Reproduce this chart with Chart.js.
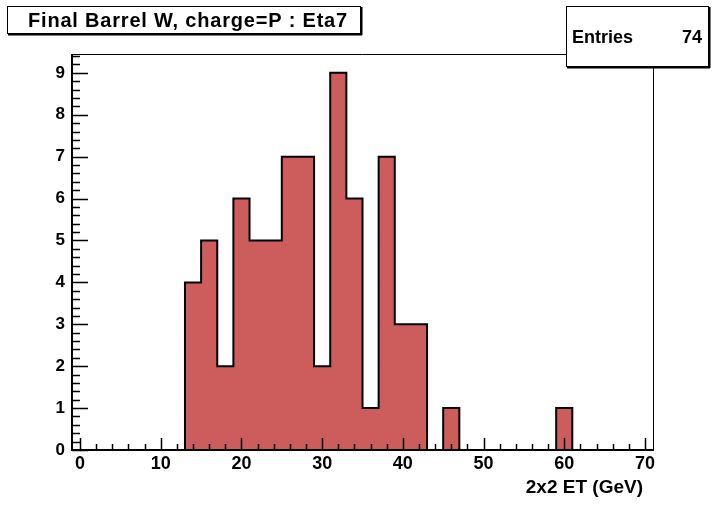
<!DOCTYPE html>
<html>
<head>
<meta charset="utf-8">
<script src="https://cdn.jsdelivr.net/npm/chart.js@4.4.1/dist/chart.umd.min.js"></script>
<style>
  html, body { margin: 0; padding: 0; background: #fff; }
  #wrap { width: 718px; height: 505px; position: relative; }
</style>
</head>
<body>
<div id="wrap"><canvas id="c" width="718" height="505"></canvas></div>
<script>
// ---- data ----
const chartTitle = "Final Barrel W, charge=P : Eta7";
const xAxisTitle = "2x2 ET (GeV)";
const entriesLabel = "Entries";
const entriesValue = "74";
const binLow = [-1, 1, 3, 5, 7, 9, 11, 13, 15, 17, 19, 21, 23, 25, 27, 29, 31, 33,
                35, 37, 39, 41, 43, 45, 47, 49, 51, 53, 55, 57, 59, 61, 63, 65, 67, 69];
const counts = [0, 0, 0, 0, 0, 0, 0, 4, 5, 2, 6, 5, 5, 7, 7, 2, 9, 6,
                1, 7, 3, 3, 0, 1, 0, 0, 0, 0, 0, 0, 1, 0, 0, 0, 0, 0];
const xMin = -1, xMax = 71;
const yMin = 0, yMax = 9.45;
const xTickValues = [0, 10, 20, 30, 40, 50, 60, 70];
const yTickValues = [0, 1, 2, 3, 4, 5, 6, 7, 8, 9];

const FONT = "'Liberation Sans', Arial, Helvetica, sans-serif";

const points = binLow.map((x, i) => ({ x: x, y: counts[i] }));
points.push({ x: xMax, y: 0 });

const rootPlugin = {
  id: 'rootDecor',
  afterDatasetsDraw(chart) {
    const ctx = chart.ctx;
    const ca = chart.chartArea;
    const xs = chart.scales.x, ys = chart.scales.y;
    ctx.save();
    // frame top & right
    ctx.strokeStyle = '#000';
    ctx.lineWidth = 1;
    ctx.beginPath();
    ctx.moveTo(ca.left, ca.top + 0.5);
    ctx.lineTo(ca.right + 0.5, ca.top + 0.5);
    ctx.lineTo(ca.right + 0.5, ca.bottom);
    ctx.stroke();
    // axis lines (thick)
    ctx.lineWidth = 2;
    ctx.beginPath();
    ctx.moveTo(ca.left, ca.top);
    ctx.lineTo(ca.left, ca.bottom);
    ctx.lineTo(ca.right + 1, ca.bottom);
    ctx.stroke();
    // x ticks
    ctx.lineWidth = 1.5;
    ctx.beginPath();
    for (let v = 0; v <= xMax; v += 2) {
      const px = Math.round(xs.getPixelForValue(v)) + 0.5;
      const major = (v % 10 === 0);
      const len = major ? 12 : 6;
      ctx.moveTo(px, ca.bottom);
      ctx.lineTo(px, ca.bottom - len);
    }
    // y ticks
    for (let k = 0; k <= Math.floor(yMax * 5); k++) {
      const v = k / 5;
      const py = Math.round(ys.getPixelForValue(v)) + 0.5;
      const major = (k % 5 === 0);
      const len = major ? 16 : 8;
      ctx.moveTo(ca.left, py);
      ctx.lineTo(ca.left + len, py);
    }
    ctx.stroke();

    // title box
    ctx.lineWidth = 1;
    ctx.fillStyle = '#fff';
    ctx.fillRect(8, 7, 352, 26);
    ctx.strokeRect(7.5, 6.5, 353, 27);
    ctx.fillStyle = '#000';
    ctx.fillRect(8, 34, 354, 1.5);
    ctx.fillRect(361, 7, 1.5, 28);
    ctx.font = "bold 20px " + FONT;
    ctx.textAlign = 'center';
    ctx.textBaseline = 'alphabetic';
    try { ctx.letterSpacing = '0.8px'; } catch (e) {}
    ctx.fillText(chartTitle, 188, 27);
    try { ctx.letterSpacing = '0px'; } catch (e) {}

    // stats box
    ctx.fillStyle = '#fff';
    ctx.fillRect(566, 6, 143, 61);
    ctx.strokeRect(566.5, 6.5, 142, 60);
    ctx.fillStyle = '#000';
    ctx.fillRect(567, 67, 143, 1.5);
    ctx.fillRect(709, 7, 1.5, 61);
    ctx.font = "bold 18px " + FONT;
    ctx.textAlign = 'left';
    ctx.textBaseline = 'alphabetic';
    ctx.fillText(entriesLabel, 572, 43);
    ctx.textAlign = 'right';
    ctx.fillText(entriesValue, 702, 43);

    // x axis title
    ctx.font = "bold 19px " + FONT;
    ctx.textAlign = 'right';
    ctx.fillText(xAxisTitle, 643, 493);
    ctx.restore();
  }
};

new Chart(document.getElementById('c'), {
  type: 'line',
  data: {
    datasets: [{
      data: points,
      stepped: 'before',
      fill: 'origin',
      backgroundColor: 'rgb(205, 93, 93)',
      borderColor: '#000',
      borderWidth: 2,
      pointRadius: 0,
      tension: 0
    }]
  },
  plugins: [rootPlugin],
  options: {
    responsive: false,
    animation: false,
    events: [],
    layout: { padding: { left: 0, top: 54, right: 65, bottom: 0 } },
    plugins: { legend: { display: false }, tooltip: { enabled: false }, title: { display: false } },
    scales: {
      x: {
        type: 'linear',
        min: xMin, max: xMax,
        grid: { display: false, drawTicks: false },
        border: { display: false },
        afterFit(scale) { scale.height = 55; },
        afterBuildTicks(scale) { scale.ticks = xTickValues.map(v => ({ value: v })); },
        ticks: {
          autoSkip: false, maxRotation: 0, padding: 3,
          color: '#000',
          font: { family: FONT, size: 18, weight: 'bold' }
        }
      },
      y: {
        type: 'linear',
        min: yMin, max: yMax,
        grid: { display: false, drawTicks: false },
        border: { display: false },
        afterFit(scale) { scale.width = 72; },
        afterBuildTicks(scale) { scale.ticks = yTickValues.map(v => ({ value: v })); },
        ticks: {
          autoSkip: false, padding: 7,
          color: '#000',
          font: { family: FONT, size: 17, weight: 'bold' }
        }
      }
    }
  }
});
</script>
</body>
</html>
